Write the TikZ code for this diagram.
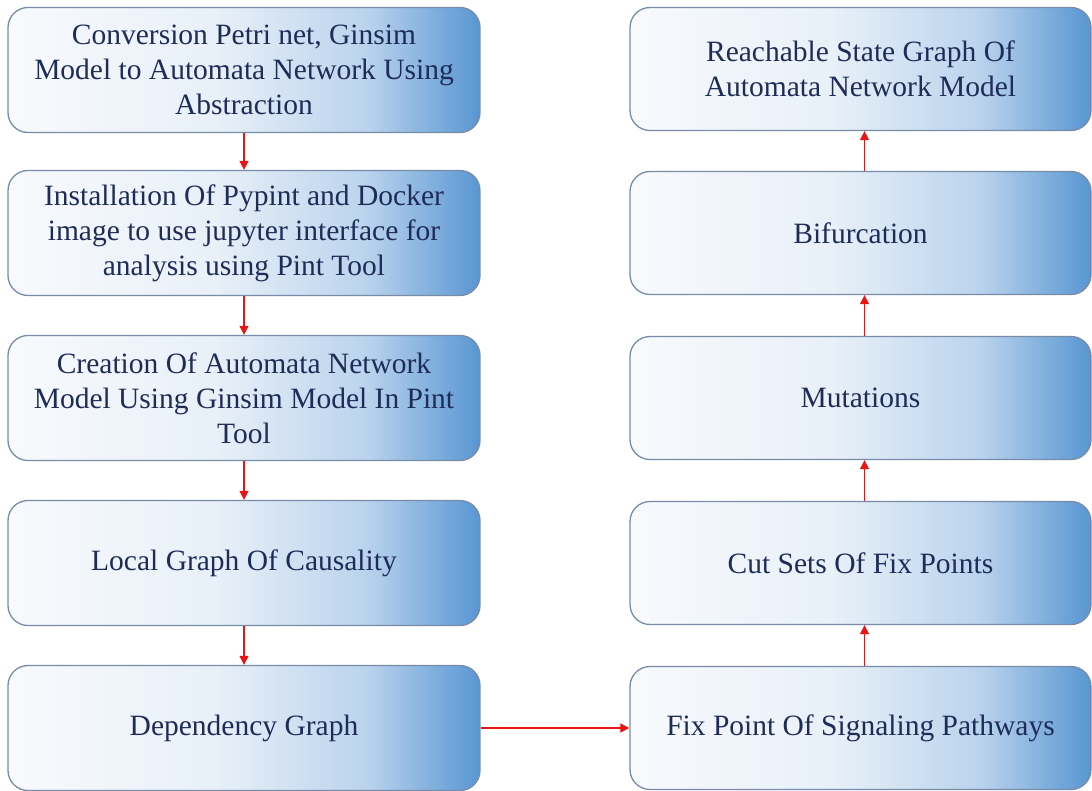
\documentclass[tikz,border=0pt]{standalone}
\usepackage{fontspec}
\setmainfont{Liberation Serif}
\usetikzlibrary{arrows.meta}

\definecolor{boxlight}{RGB}{248,250,253}
\definecolor{boxpale}{RGB}{232,240,248}
\definecolor{boxmid}{RGB}{186,211,237}
\definecolor{boxdeep}{RGB}{88,150,210}
\definecolor{boxedge}{RGB}{120,140,168}
\definecolor{boxtext}{RGB}{30,44,88}
\definecolor{flowred}{RGB}{235,20,20}

% light-to-blue horizontal fill, path spans 25bp..75bp
\pgfdeclarehorizontalshading{stepshade}{100bp}{%
  color(0bp)=(boxlight); color(25bp)=(boxlight); color(47bp)=(boxpale);
  color(63bp)=(boxmid); color(75bp)=(boxdeep); color(100bp)=(boxdeep)}

\tikzset{
  flowbox/.style={draw=boxedge, line width=1.3pt, rounded corners=20pt,
    shading=stepshade, align=center, text=boxtext, inner sep=0pt,
    font=\fontsize{29.5}{35}\selectfont},
  leftbox/.style={flowbox, minimum width=472pt, minimum height=125pt},
  rightbox/.style={flowbox, minimum width=461pt, minimum height=123pt},
  flow/.style={draw=flowred, line width=1.2pt, -{Triangle[length=9pt,width=9pt]}}
}

\begin{document}
\begin{tikzpicture}[x=1pt,y=-1pt]
\useasboundingbox (0,0) rectangle (1092,790);

% left column, top to bottom
\node[leftbox] (l1) at (244,70)  {Conversion Petri net, Ginsim\\Model to Automata Network Using\\Abstraction};
\node[leftbox] (l2) at (244,233) {Installation Of Pypint and Docker\\image to use jupyter interface for\\analysis using Pint Tool};
\node[leftbox] (l3) at (244,398) {Creation Of Automata Network\\Model Using Ginsim Model In Pint\\Tool};
\node[leftbox] (l4) at (244,563) {Local Graph Of Causality};
\node[leftbox] (l5) at (244,728) {Dependency Graph};

% right column, bottom to top
\node[rightbox] (r1) at (860.5,69)  {Reachable State Graph Of\\Automata Network Model};
\node[rightbox] (r2) at (860.5,233) {Bifurcation};
\node[rightbox] (r3) at (860.5,398) {Mutations};
\node[rightbox] (r4) at (860.5,563) {Cut Sets Of Fix Points};
\node[rightbox] (r5) at (860.5,728) {Fix Point Of Signaling Pathways};

% connectors
\draw[flow] (l1) -- (l2);
\draw[flow] (l2) -- (l3);
\draw[flow] (l3) -- (l4);
\draw[flow] (l4) -- (l5);
\draw[flow] (l5) -- (r5);
\draw[flow] ([xshift=4pt]r5.north) -- ([xshift=4pt]r4.south);
\draw[flow] ([xshift=4pt]r4.north) -- ([xshift=4pt]r3.south);
\draw[flow] ([xshift=4pt]r3.north) -- ([xshift=4pt]r2.south);
\draw[flow] ([xshift=4pt]r2.north) -- ([xshift=4pt]r1.south);
\end{tikzpicture}
\end{document}
